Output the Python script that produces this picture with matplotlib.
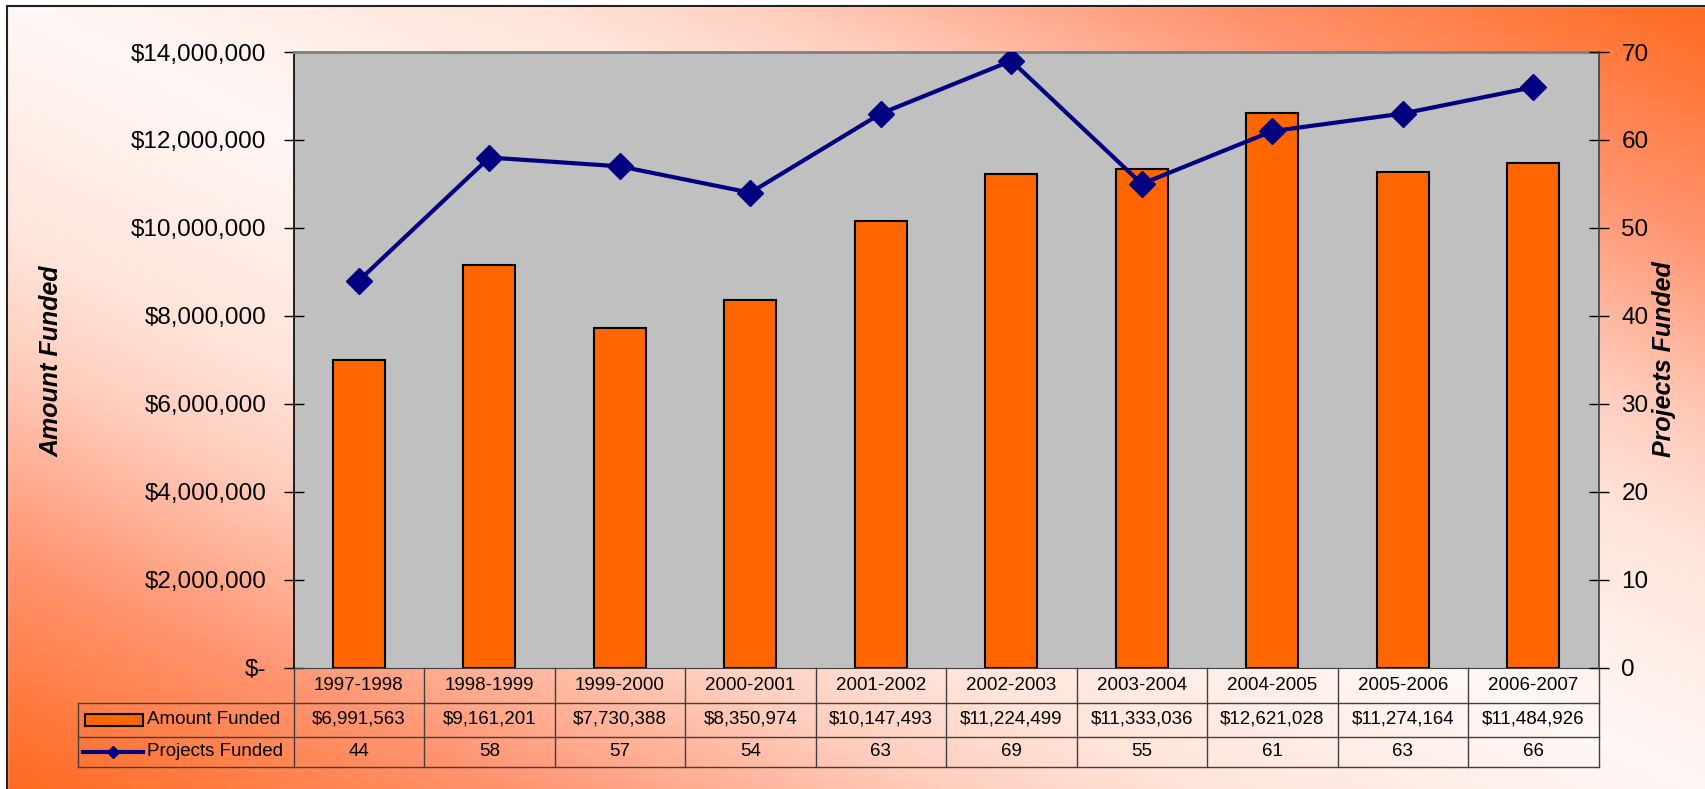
import numpy as np
import matplotlib.pyplot as plt
from matplotlib.colors import LinearSegmentedColormap
from matplotlib.patches import Rectangle
from matplotlib.ticker import FuncFormatter

years = ["1997-1998", "1998-1999", "1999-2000", "2000-2001", "2001-2002",
         "2002-2003", "2003-2004", "2004-2005", "2005-2006", "2006-2007"]
amount = [6991563, 9161201, 7730388, 8350974, 10147493,
          11224499, 11333036, 12621028, 11274164, 11484926]
projects = [44, 58, 57, 54, 63, 69, 55, 61, 63, 66]

W, H = 1705, 789
plt.rcParams['font.family'] = ['Liberation Sans', 'DejaVu Sans']
fig = plt.figure(figsize=(W / 100, H / 100), dpi=100)

# background: diagonal gradient, light in the middle, orange at two corners
bg = fig.add_axes([0, 0, 1, 1], zorder=-10)
U, V = np.meshgrid(np.linspace(0, 1, 500), np.linspace(0, 1, 250))
cmap = LinearSegmentedColormap.from_list(
    'bg', [(0, '#fff8f6'), (0.3, '#ffe4d9'), (0.45, '#ffcdbd'),
           (0.7, '#ff9470'), (1, '#ff6a1e')])
bg.imshow(np.abs(U - V), cmap=cmap, vmin=0, vmax=1, extent=[0, 1, 0, 1],
          origin='upper', aspect='auto')
bg.add_patch(Rectangle((0, 0), 7 / W, 1, color='white'))
bg.add_patch(Rectangle((0, 1 - 6 / H), 1, 6 / H, color='white'))
bg.add_patch(Rectangle((7 / W, -0.01), 1, 1.01 - 6 / H, fill=False, ec='#222222', lw=1.5))
bg.set_xlim(0, 1)
bg.set_ylim(0, 1)
bg.axis('off')

left, right, top, bottom = 293.6, 1598.5, 52, 667.6
ax = fig.add_axes([left / W, 1 - bottom / H, (right - left) / W, (bottom - top) / H])
ax.set_facecolor('#c0c0c0')
x = np.arange(len(years))
ax.bar(x, amount, width=0.4, color='#ff6600', edgecolor='black', lw=1.5, zorder=2)
ax.set_ylim(0, 14e6)
ax.set_yticks(np.arange(0, 14e6 + 1, 2e6))
ax.yaxis.set_major_formatter(FuncFormatter(lambda v, p: '$-' if v == 0 else f'${v:,.0f}'))
ax.tick_params(axis='y', direction='inout', length=15, width=1, labelsize=17.5, pad=12)
ax.set_xticks([])
ax.spines['top'].set_color('#808080')
ax.spines['top'].set_linewidth(2)
ax.spines['bottom'].set_color('#404040')
ax.spines['left'].set_linewidth(1.2)
ax.spines['right'].set_visible(False)

ax2 = ax.twinx()
ax2.plot(x, projects, color='#000080', lw=3, marker='D', ms=13.5, zorder=3)
ax2.set_ylim(0, 70)
ax2.set_yticks(range(0, 71, 10))
ax2.tick_params(axis='y', direction='inout', length=15, width=1, labelsize=17.5, pad=9)
ax2.spines['right'].set_color('#404040')
ax2.spines['right'].set_linewidth(1.2)
for s in ['top', 'left', 'bottom']:
    ax2.spines[s].set_visible(False)

# data table under the chart
trans = ax.get_xaxis_transform()
colw = (right - left) / len(years)
hpx = bottom - top
rows = [0, -(702.5 - bottom) / hpx, -(736.5 - bottom) / hpx, -(766.7 - bottom) / hpx]
xleg = -0.5 - (left - 78) / colw
lc = '#404040'
for r in rows[1:]:
    ax.plot([xleg, len(years) - 0.5], [r, r], color=lc, lw=1, transform=trans, clip_on=False)
for k in range(len(years) + 1):
    ax.plot([k - 0.5, k - 0.5], [0, rows[3]], color=lc, lw=1, transform=trans, clip_on=False)
ax.plot([xleg, xleg], [rows[1], rows[3]], color=lc, lw=1, transform=trans, clip_on=False)

fs = 13.5
for i in range(len(years)):
    ax.text(i, (rows[0] + rows[1]) / 2, years[i], ha='center', va='center', fontsize=fs, transform=trans)
    ax.text(i, (rows[1] + rows[2]) / 2, f'${amount[i]:,}', ha='center', va='center', fontsize=fs, transform=trans)
    ax.text(i, (rows[2] + rows[3]) / 2, str(projects[i]), ha='center', va='center', fontsize=fs, transform=trans)

def px2x(p):
    return -0.5 - (left - p) / colw

ym1 = (rows[1] + rows[2]) / 2
ym2 = (rows[2] + rows[3]) / 2
ax.add_patch(Rectangle((px2x(85), ym1 - 6 / hpx), (143 - 85) / colw, 12 / hpx,
                       fc='#ff6600', ec='black', lw=1.5, transform=trans, clip_on=False))
ax.plot([px2x(83), px2x(143)], [ym2, ym2], color='#000080', lw=3, transform=trans, clip_on=False)
ax.plot([px2x(113)], [ym2], color='#000080', marker='D', ms=6, transform=trans, clip_on=False)
ax.text(px2x(147), ym1, 'Amount Funded', ha='left', va='center', fontsize=fs, transform=trans)
ax.text(px2x(147), ym2, 'Projects Funded', ha='left', va='center', fontsize=fs, transform=trans)
ax.set_xlim(-0.5, len(years) - 0.5)

fig.text(52 / W, 1 - 361 / H, 'Amount Funded', rotation=90, ha='center', va='center',
         fontsize=18, fontweight='bold', fontstyle='italic')
fig.text(1664 / W, 1 - 359 / H, 'Projects Funded', rotation=90, ha='center', va='center',
         fontsize=18, fontweight='bold', fontstyle='italic')

fig.savefig('out.png', dpi=100)
